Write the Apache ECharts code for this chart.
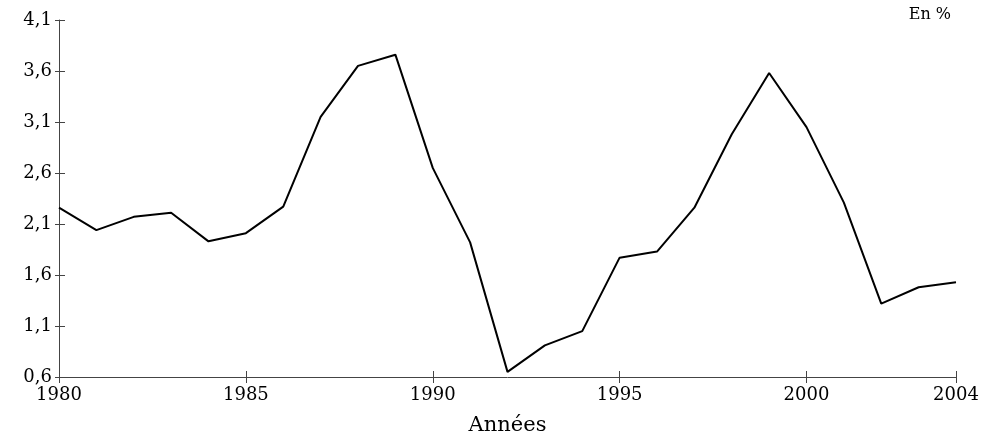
<!DOCTYPE html>
<html>
<head>
<meta charset="utf-8">
<script src="https://cdn.jsdelivr.net/npm/echarts@6/dist/echarts.min.js"></script>
<style>
  html, body { margin: 0; padding: 0; background: #fff; }
  #chart { width: 1000px; height: 441px; }
</style>
</head>
<body>
<div id="chart"></div>
<script>
// années et valeurs (en %)
var years = [1980, 1981, 1982, 1983, 1984, 1985, 1986, 1987, 1988, 1989, 1990, 1991,
  1992, 1993, 1994, 1995, 1996, 1997, 1998, 1999, 2000, 2001, 2002, 2003, 2004];
var values = [2.26, 2.04, 2.17, 2.21, 1.93, 2.01, 2.27, 3.15, 3.65, 3.76, 2.65, 1.92,
  0.65, 0.91, 1.05, 1.77, 1.83, 2.26, 2.98, 3.58, 3.05, 2.31, 1.32, 1.48, 1.53];
var yTicks = [0.6, 1.1, 1.6, 2.1, 2.6, 3.1, 3.6, 4.1];

var font = "DejaVu Serif";
var chart = echarts.init(document.getElementById("chart"));

var points = years.map(function (y, i) { return [y, values[i]]; });

var xBase = {
  type: "value",
  min: 1980,
  max: 2004,
  interval: 5,
  splitLine: { show: false }
};
var yBase = {
  type: "value",
  min: yTicks[0],
  max: yTicks[yTicks.length - 1],
  interval: 0.5,
  splitLine: { show: false }
};

var option = {
  animation: false,
  backgroundColor: "#fff",
  grid: { left: 59, right: 44, top: 20, bottom: 63 },
  title: {
    text: "En %",
    right: 44,
    top: 2,
    textStyle: { fontFamily: font, fontSize: 16, fontWeight: "normal", color: "#000" }
  },
  xAxis: [
    Object.assign({}, xBase, {
      name: "Années",
      nameLocation: "middle",
      nameGap: 38,
      nameTextStyle: { fontFamily: font, fontSize: 21, color: "#000" },
      axisLine: { lineStyle: { color: "#444", width: 1 } },
      axisTick: { inside: false, length: 6, lineStyle: { color: "#444" } },
      axisLabel: {
        fontFamily: font, fontSize: 18, color: "#000", margin: 9,
        formatter: function (v) { return String(v); }
      }
    }),
    // deuxième axe pour les graduations vers l'intérieur
    Object.assign({}, xBase, {
      position: "bottom",
      axisLine: { show: false },
      axisTick: { inside: true, length: 6, lineStyle: { color: "#444" } },
      axisLabel: { show: false }
    })
  ],
  yAxis: [
    Object.assign({}, yBase, {
      axisLine: { show: true, lineStyle: { color: "#444", width: 1 } },
      axisTick: { inside: true, length: 6, lineStyle: { color: "#444" } },
      axisLabel: {
        fontFamily: font, fontSize: 18, color: "#000", margin: 7,
        formatter: function (v) { return v.toFixed(1).replace(".", ","); }
      }
    }),
    Object.assign({}, yBase, {
      position: "left",
      axisLine: { show: false },
      axisTick: { show: true, inside: false, length: 4, lineStyle: { color: "#444" } },
      axisLabel: { show: false }
    })
  ],
  series: [
    {
      type: "line",
      data: points,
      symbol: "none",
      lineStyle: { color: "#000", width: 2 }
    }
  ]
};

chart.setOption(option);
</script>
</body>
</html>
